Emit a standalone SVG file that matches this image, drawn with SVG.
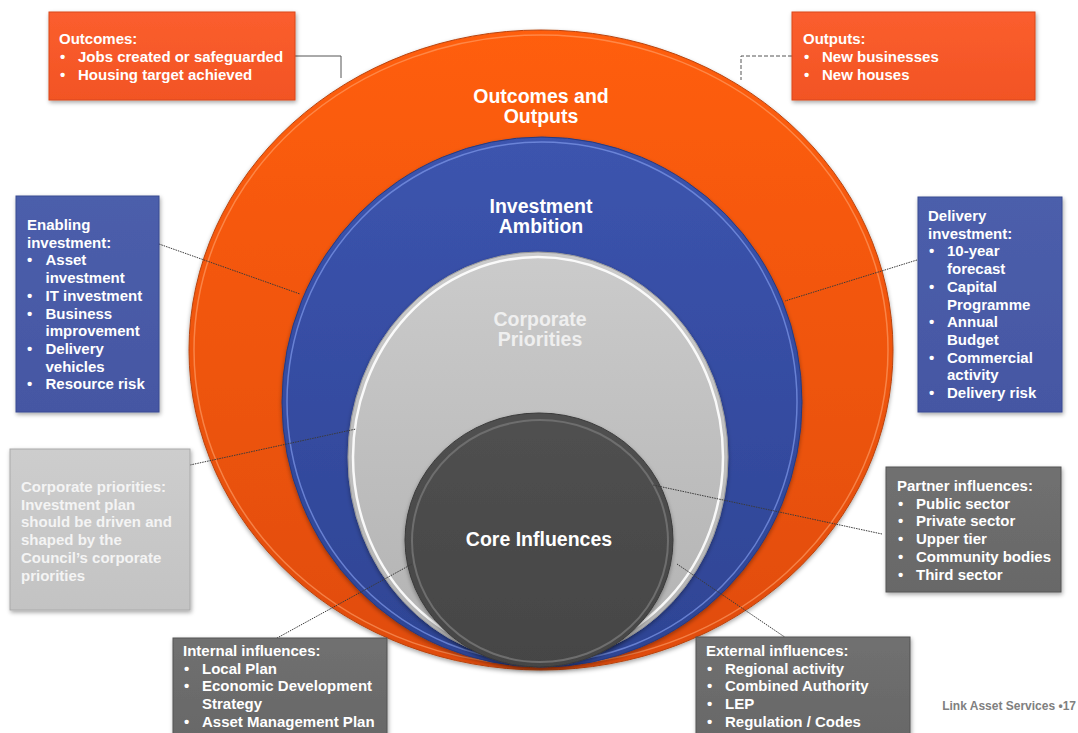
<svg xmlns="http://www.w3.org/2000/svg" width="1078" height="733" viewBox="0 0 1078 733">
<style>
.t{font-family:"Liberation Sans",Arial,sans-serif;font-weight:bold;font-size:15px;fill:#ffffff}
.tl{font-family:"Liberation Sans",Arial,sans-serif;font-weight:bold;font-size:15px;fill:#f4f4f4}
.c{font-family:"Liberation Sans",Arial,sans-serif;font-weight:bold;font-size:19.5px;fill:#ffffff;text-anchor:middle}
.dot{fill:none;stroke:#3a3a3a;stroke-width:1;stroke-dasharray:1.5 1}
.ft{font-family:"Liberation Sans",Arial,sans-serif;font-weight:bold;font-size:12px;fill:#808080;text-anchor:end}
</style>
<defs>
<linearGradient id="gO" x1="0" y1="0" x2="0" y2="1"><stop offset="0" stop-color="#ff5e0a"/><stop offset="1" stop-color="#e04c0c"/></linearGradient>
<linearGradient id="gB" x1="0" y1="0" x2="0" y2="1"><stop offset="0" stop-color="#3c54ae"/><stop offset="1" stop-color="#2e4494"/></linearGradient>
<linearGradient id="gG" x1="0" y1="0" x2="0" y2="1"><stop offset="0" stop-color="#cbcbcb"/><stop offset="1" stop-color="#b2b2b2"/></linearGradient>
<linearGradient id="gC" x1="0" y1="0" x2="0" y2="1"><stop offset="0" stop-color="#505050"/><stop offset="1" stop-color="#454545"/></linearGradient>
<linearGradient id="bO" x1="0" y1="0" x2="0" y2="1"><stop offset="0" stop-color="#fb5e2e"/><stop offset="1" stop-color="#f25424"/></linearGradient>
<linearGradient id="bB" x1="0" y1="0" x2="0" y2="1"><stop offset="0" stop-color="#4c5eab"/><stop offset="1" stop-color="#4557a3"/></linearGradient>
<linearGradient id="bL" x1="0" y1="0" x2="0" y2="1"><stop offset="0" stop-color="#cdcdcd"/><stop offset="1" stop-color="#c3c3c3"/></linearGradient>
<linearGradient id="bD" x1="0" y1="0" x2="0" y2="1"><stop offset="0" stop-color="#707070"/><stop offset="1" stop-color="#686868"/></linearGradient>
<filter id="sh" x="-10%" y="-10%" width="120%" height="120%"><feDropShadow dx="1" dy="2" stdDeviation="2" flood-color="#000" flood-opacity="0.35"/></filter>
<filter id="esh" x="-10%" y="-10%" width="120%" height="120%"><feDropShadow dx="0" dy="2" stdDeviation="2" flood-color="#000" flood-opacity="0.35"/></filter>
</defs>
<rect width="1078" height="733" fill="#ffffff"/>

<g id="outcomes-outputs">
<ellipse cx="541" cy="350" rx="352" ry="320" fill="url(#gO)" stroke="#b84410" stroke-width="1" filter="url(#esh)"/>
<ellipse cx="541" cy="350" rx="347" ry="315" fill="none" stroke="#ffa36e" stroke-width="1.5" opacity="0.6"/>
<text class="c"><tspan x="541" y="103">Outcomes and</tspan><tspan x="541" y="123">Outputs</tspan></text>
</g>
<g id="investment-ambition">
<ellipse cx="542" cy="402" rx="260" ry="265" fill="url(#gB)" stroke="#253a80" stroke-width="1" filter="url(#esh)"/>
<ellipse cx="542" cy="402" rx="255" ry="260" fill="none" stroke="#7f98ea" stroke-width="1.5" opacity="0.7"/>
<text class="c"><tspan x="541" y="213">Investment</tspan><tspan x="541" y="233">Ambition</tspan></text>
</g>
<g id="corporate-priorities">
<ellipse cx="538" cy="457" rx="190" ry="205" fill="url(#gG)" stroke="#9a9a9a" stroke-width="1" filter="url(#esh)"/>
<ellipse cx="538" cy="457" rx="185" ry="200" fill="none" stroke="#ffffff" stroke-width="2.5" opacity="0.9"/>
<text class="c" style="fill:#efefef"><tspan x="540" y="326">Corporate</tspan><tspan x="540" y="346">Priorities</tspan></text>
</g>
<g id="core-influences">
<ellipse cx="539" cy="540" rx="134" ry="127" fill="url(#gC)" stroke="#3a3a3a" stroke-width="1" filter="url(#esh)"/>
<ellipse cx="540" cy="541" rx="128" ry="121" fill="none" stroke="#6e6e6e" stroke-width="2"/>
<text class="c" x="539" y="546">Core Influences</text>
</g>

<g id="connectors">
<polyline points="295,56 341,56 341,78" fill="none" stroke="#555555" stroke-width="1"/>
<polyline points="792,56 741,56 741,80" fill="none" stroke="#555555" stroke-width="1" stroke-dasharray="4 2"/>
<line class="dot" x1="159" y1="244" x2="300" y2="294"/>
<line class="dot" x1="917" y1="260" x2="785" y2="301"/>
<line class="dot" x1="190" y1="465" x2="356" y2="429"/>
<line class="dot" x1="882" y1="534" x2="653" y2="485"/>
<line class="dot" x1="268" y1="643" x2="412" y2="564"/>
<line class="dot" x1="792" y1="642" x2="677" y2="564"/>
</g>

<g id="outcomes-box">
<rect x="49" y="12" width="246" height="88" fill="url(#bO)" stroke="#d9481c" stroke-width="1" filter="url(#sh)"/>
<text class="t"><tspan x="59" y="43.5">Outcomes:</tspan><tspan x="60" y="61.5">•</tspan><tspan x="78" y="61.5">Jobs created or safeguarded</tspan><tspan x="60" y="79.5">•</tspan><tspan x="78" y="79.5">Housing target achieved</tspan></text>
</g>
<g id="outputs-box">
<rect x="792" y="12" width="243" height="88" fill="url(#bO)" stroke="#d9481c" stroke-width="1" filter="url(#sh)"/>
<text class="t"><tspan x="803" y="43.5">Outputs:</tspan><tspan x="804" y="61.5">•</tspan><tspan x="822" y="61.5">New businesses</tspan><tspan x="804" y="79.5">•</tspan><tspan x="822" y="79.5">New houses</tspan></text>
</g>
<g id="enabling-box">
<rect x="16" y="196" width="143" height="216" fill="url(#bB)" stroke="#3a4a92" stroke-width="1" filter="url(#sh)"/>
<text class="t"><tspan x="27" y="230">Enabling</tspan><tspan x="27" y="247.7">investment:</tspan><tspan x="27" y="265.4">•</tspan><tspan x="45.5" y="265.4">Asset</tspan><tspan x="45.5" y="283.1">investment</tspan><tspan x="27" y="300.8">•</tspan><tspan x="45.5" y="300.8">IT investment</tspan><tspan x="27" y="318.5">•</tspan><tspan x="45.5" y="318.5">Business</tspan><tspan x="45.5" y="336.2">improvement</tspan><tspan x="27" y="353.9">•</tspan><tspan x="45.5" y="353.9">Delivery</tspan><tspan x="45.5" y="371.6">vehicles</tspan><tspan x="27" y="389.3">•</tspan><tspan x="45.5" y="389.3">Resource risk</tspan></text>
</g>
<g id="delivery-box">
<rect x="918" y="197" width="144" height="215" fill="url(#bB)" stroke="#3a4a92" stroke-width="1" filter="url(#sh)"/>
<text class="t"><tspan x="928" y="221">Delivery</tspan><tspan x="928" y="238.7">investment:</tspan><tspan x="929" y="256.4">•</tspan><tspan x="947" y="256.4">10-year</tspan><tspan x="947" y="274.1">forecast</tspan><tspan x="929" y="291.8">•</tspan><tspan x="947" y="291.8">Capital</tspan><tspan x="947" y="309.5">Programme</tspan><tspan x="929" y="327.2">•</tspan><tspan x="947" y="327.2">Annual</tspan><tspan x="947" y="344.9">Budget</tspan><tspan x="929" y="362.6">•</tspan><tspan x="947" y="362.6">Commercial</tspan><tspan x="947" y="380.3">activity</tspan><tspan x="929" y="398">•</tspan><tspan x="947" y="398">Delivery risk</tspan></text>
</g>
<g id="corporate-box">
<rect x="10" y="449" width="180" height="161" fill="url(#bL)" stroke="#aaaaaa" stroke-width="1" filter="url(#sh)"/>
<text class="tl"><tspan x="21" y="492">Corporate priorities:</tspan><tspan x="21" y="509.7">Investment plan</tspan><tspan x="21" y="527.4">should be driven and</tspan><tspan x="21" y="545.1">shaped by the</tspan><tspan x="21" y="562.8">Council’s corporate</tspan><tspan x="21" y="580.5">priorities</tspan></text>
</g>
<g id="partner-box">
<rect x="886" y="467" width="175" height="125" fill="url(#bD)" stroke="#555555" stroke-width="1" filter="url(#sh)"/>
<text class="t"><tspan x="897" y="491">Partner influences:</tspan><tspan x="898" y="508.7">•</tspan><tspan x="916" y="508.7">Public sector</tspan><tspan x="898" y="526.4">•</tspan><tspan x="916" y="526.4">Private sector</tspan><tspan x="898" y="544.1">•</tspan><tspan x="916" y="544.1">Upper tier</tspan><tspan x="898" y="561.8">•</tspan><tspan x="916" y="561.8">Community bodies</tspan><tspan x="898" y="579.5">•</tspan><tspan x="916" y="579.5">Third sector</tspan></text>
</g>
<g id="internal-box">
<rect x="173" y="638" width="214" height="100" fill="url(#bD)" stroke="#555555" stroke-width="1" filter="url(#sh)"/>
<text class="t"><tspan x="183" y="656">Internal influences:</tspan><tspan x="184" y="673.7">•</tspan><tspan x="202" y="673.7">Local Plan</tspan><tspan x="184" y="691.4">•</tspan><tspan x="202" y="691.4">Economic Development</tspan><tspan x="202" y="709.1">Strategy</tspan><tspan x="184" y="726.8">•</tspan><tspan x="202" y="726.8">Asset Management Plan</tspan></text>
</g>
<g id="external-box">
<rect x="696" y="637" width="214" height="100" fill="url(#bD)" stroke="#555555" stroke-width="1" filter="url(#sh)"/>
<text class="t"><tspan x="706" y="656">External influences:</tspan><tspan x="707" y="673.7">•</tspan><tspan x="725" y="673.7">Regional activity</tspan><tspan x="707" y="691.4">•</tspan><tspan x="725" y="691.4">Combined Authority</tspan><tspan x="707" y="709.1">•</tspan><tspan x="725" y="709.1">LEP</tspan><tspan x="707" y="726.8">•</tspan><tspan x="725" y="726.8">Regulation / Codes</tspan></text>
</g>
<text class="ft" x="1076" y="710">Link Asset Services •17</text>
</svg>
